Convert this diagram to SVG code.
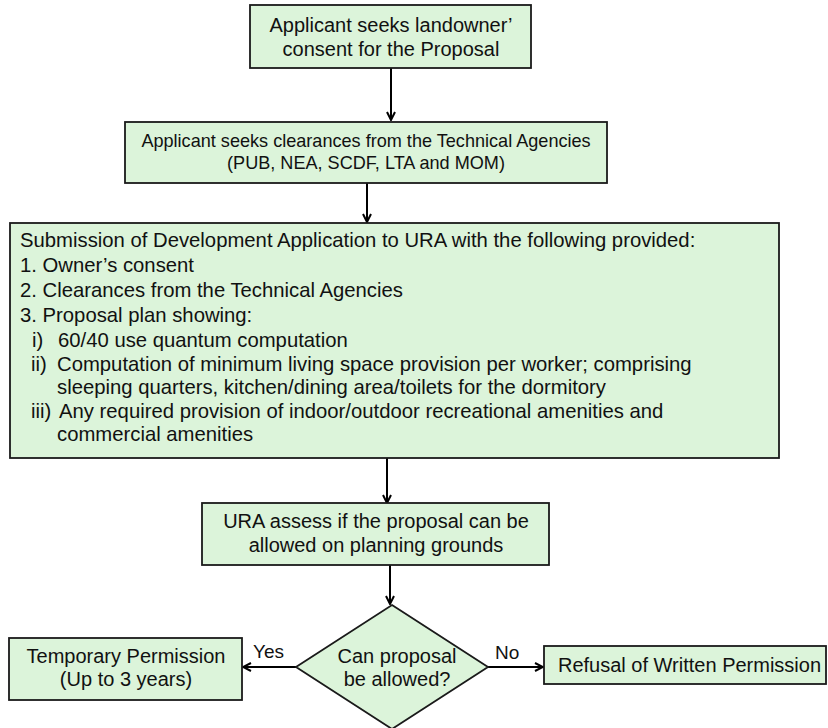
<svg xmlns="http://www.w3.org/2000/svg" width="828" height="728" viewBox="0 0 828 728">
<defs>
<style>
.box{fill:#dcf4da;stroke:#1a1a1a;stroke-width:1.8}
.t{font-family:"Liberation Sans",Arial,sans-serif;font-size:20px;fill:#111}
.c{text-anchor:middle}
.s{font-size:18.1px}
.b3{font-size:20.3px}
.conn{stroke:#000;stroke-width:2;fill:none}
</style>
<marker id="arr" viewBox="0 0 10 10" refX="9" refY="5" markerWidth="10" markerHeight="10" markerUnits="userSpaceOnUse" orient="auto">
<path d="M1,1 L9,5 L1,9" fill="none" stroke="#000" stroke-width="2"/>
</marker>
</defs>
<rect width="828" height="728" fill="#fff"/>
<g id="connectors">
<line class="conn" x1="391" y1="68" x2="391" y2="120" marker-end="url(#arr)"/>
<line class="conn" x1="367" y1="183" x2="367" y2="222" marker-end="url(#arr)"/>
<line class="conn" x1="387" y1="458" x2="387" y2="503" marker-end="url(#arr)"/>
<line class="conn" x1="390" y1="565" x2="390" y2="604" marker-end="url(#arr)"/>
<line class="conn" x1="296" y1="667" x2="243" y2="667" marker-end="url(#arr)"/>
<line class="conn" x1="488" y1="667" x2="543" y2="667" marker-end="url(#arr)"/>
<text class="t" x="253" y="658" style="font-size:19px">Yes</text>
<text class="t" x="495" y="659" style="font-size:19px">No</text>
</g>
<g id="n1">
<rect class="box" x="250" y="5" width="281" height="63"/>
<text class="t c" x="391" y="32">Applicant seeks landowner’</text>
<text class="t c" x="391" y="56">consent for the Proposal</text>
</g>
<g id="n2">
<rect class="box" x="125" y="122" width="482" height="61"/>
<text class="t c s" x="366" y="147">Applicant seeks clearances from the Technical Agencies</text>
<text class="t c s" x="366" y="169">(PUB, NEA, SCDF, LTA and MOM)</text>
</g>
<g id="n3">
<rect class="box" x="10" y="223" width="769" height="235"/>
<text class="t b3" x="20" y="247">Submission of Development Application to URA with the following provided:</text>
<text class="t b3" x="20" y="272">1. Owner’s consent</text>
<text class="t b3" x="20" y="297">2. Clearances from the Technical Agencies</text>
<text class="t b3" x="20" y="322">3. Proposal plan showing:</text>
<text class="t b3" x="32" y="347">i)</text>
<text class="t b3" x="58" y="347">60/40 use quantum computation</text>
<text class="t b3" x="31" y="371">ii)</text>
<text class="t b3" x="57" y="371">Computation of minimum living space provision per worker; comprising</text>
<text class="t b3" x="57" y="394">sleeping quarters, kitchen/dining area/toilets for the dormitory</text>
<text class="t b3" x="31" y="418">iii)</text>
<text class="t b3" x="59" y="418">Any required provision of indoor/outdoor recreational amenities and</text>
<text class="t b3" x="57" y="441">commercial amenities</text>
</g>
<g id="n4">
<rect class="box" x="202" y="503" width="347" height="62"/>
<text class="t c" x="376" y="528">URA assess if the proposal can be</text>
<text class="t c" x="376" y="552">allowed on planning grounds</text>
</g>
<g id="n5">
<polygon class="box" points="392,605 488,667 392,729 296,667"/>
<text class="t c" x="397" y="663">Can proposal</text>
<text class="t c" x="397" y="686">be allowed?</text>
</g>
<g id="n6">
<rect class="box" x="9" y="638" width="233" height="62"/>
<text class="t c" x="126" y="663">Temporary Permission</text>
<text class="t c" x="126" y="686">(Up to 3 years)</text>
</g>
<g id="n7">
<rect class="box" x="544" y="646" width="282" height="38"/>
<text class="t" x="558" y="672">Refusal of Written Permission</text>
</g>
</svg>
